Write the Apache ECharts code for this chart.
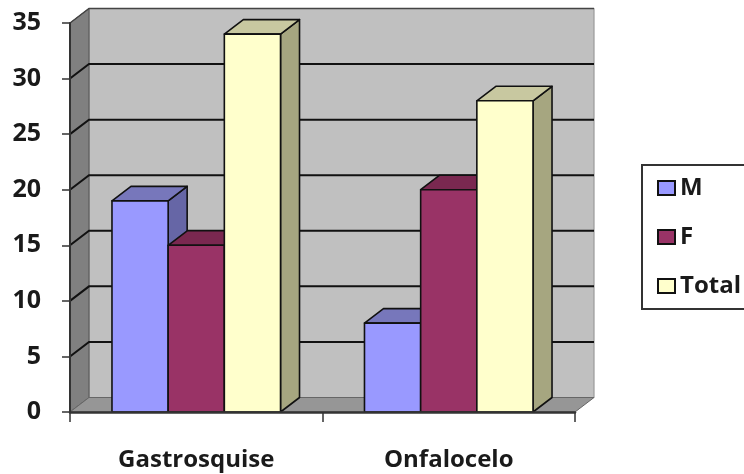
<!DOCTYPE html>
<html>
<head>
<meta charset="utf-8">
<style>html,body{margin:0;padding:0;background:#fff;overflow:hidden}#chart{width:744px;height:474px}</style>
<script src="https://cdn.jsdelivr.net/npm/echarts@6/dist/echarts.min.js"></script>
</head>
<body>
<div id="chart"></div>
<script>
const categories = ['Gastrosquise', 'Onfalocelo'];
const maleValues = [19, 8];
const femaleValues = [15, 20];
const totalValues = [34, 28];
const gridValues = [5, 10, 15, 20, 25, 30];
const yMax = 35;

// Depth of the pseudo-3D extrusion, in pixels
const DX = 19, DY = -14.5;
const INK = '#111';

const chart = echarts.init(document.getElementById('chart'));

function poly(points, fill, lineWidth, stroke) {
  return {
    type: 'polygon',
    shape: { points },
    style: { fill, stroke: stroke || INK, lineWidth: lineWidth === undefined ? 1.6 : lineWidth, lineJoin: 'round' }
  };
}

// One extruded box per category; slot is the bar's place inside its group
function boxRenderer(slot, front, top, side) {
  return function (params, api) {
    const base = api.coord([api.value(0), 0]);
    const tip = api.coord([api.value(0), api.value(1)]);
    const w = api.size([1, 0])[0] * 0.2225;
    const x0 = base[0] - 1.5 * w + slot * w;
    const x1 = x0 + w;
    const yb = base[1], yt = tip[1];
    return {
      type: 'group',
      children: [
        poly([[x1, yb], [x1 + DX, yb + DY], [x1 + DX, yt + DY], [x1, yt]], side),
        poly([[x0, yt], [x0 + DX, yt + DY], [x1 + DX, yt + DY], [x1, yt]], top),
        poly([[x0, yb], [x1, yb], [x1, yt], [x0, yt]], front)
      ]
    };
  };
}

// Back wall, side wall and floor of the plot box
function renderWalls(params, api) {
  const a = api.coord([0, 0]);
  const t = api.coord([0, yMax]);
  const xl = params.coordSys.x;
  const xr = xl + params.coordSys.width;
  const yb = a[1], yt = t[1];
  return {
    type: 'group',
    children: [
      poly([[xl + DX, yb + DY], [xr + DX, yb + DY], [xr + DX, yt + DY], [xl + DX, yt + DY]], '#c0c0c0', 1.2, '#9a9a9a'),
      poly([[xl, yb], [xl + DX, yb + DY], [xl + DX, yt + DY], [xl, yt]], '#808080', 1, '#555'),
      poly([[xl, yb], [xr, yb], [xr + DX, yb + DY], [xl + DX, yb + DY]], '#969696', 1, '#666'),
      {
        type: 'polyline',
        shape: { points: [[xl, yt], [xl + DX, yt + DY], [xr + DX, yt + DY]] },
        style: { fill: 'none', stroke: '#444', lineWidth: 1.4 }
      }
    ]
  };
}

// A grid line runs across the side wall and then along the back wall
function renderGridLine(params, api) {
  const p = api.coord([0, api.value(0)]);
  const xl = params.coordSys.x;
  const xr = xl + params.coordSys.width;
  return {
    type: 'polyline',
    shape: { points: [[xl, p[1]], [xl + DX, p[1] + DY], [xr + DX, p[1] + DY]] },
    style: { fill: 'none', stroke: INK, lineWidth: 2 }
  };
}

const labelFont = { color: '#1a1a1a', fontFamily: 'Open Sans', fontWeight: 700 };

const pairs = values => values.map((v, i) => [i, v]);

chart.setOption({
  animation: false,
  backgroundColor: '#fff',
  grid: { left: 70, top: 23, width: 505, height: 389 },
  legend: {
    data: ['M', 'F', 'Total'],
    orient: 'vertical',
    left: 642,
    top: 165,
    padding: [11, 30, 11, 15],
    itemWidth: 17,
    itemHeight: 14,
    itemGap: 25,
    icon: 'rect',
    borderColor: '#333',
    borderWidth: 2,
    backgroundColor: '#fff',
    textStyle: { ...labelFont, fontSize: 24, padding: [0, 0, 0, 0], lineHeight: 22 },
    itemStyle: { borderColor: INK, borderWidth: 2 }
  },
  xAxis: {
    type: 'category',
    data: categories,
    axisLine: { show: true, lineStyle: { color: '#333', width: 2.5 } },
    axisTick: { show: true, length: 10, lineStyle: { color: '#333', width: 1.5 } },
    axisLabel: { ...labelFont, fontSize: 24, margin: 36 },
    z: 5
  },
  yAxis: {
    type: 'value',
    min: 0,
    max: yMax,
    interval: 5,
    splitLine: { show: false },
    axisLine: { show: true, lineStyle: { color: '#333', width: 2 } },
    axisTick: { show: true, length: 8, lineStyle: { color: '#333', width: 1.5 } },
    axisLabel: { ...labelFont, fontSize: 25, margin: 29, padding: [4, 0, 0, 0] },
    z: 5
  },
  series: [
    { type: 'custom', name: 'walls', silent: true, clip: false, data: [[0, 0]], renderItem: renderWalls, z: 1 },
    { type: 'custom', name: 'grid', silent: true, clip: false, data: gridValues.map(v => [v]), encode: { y: 0 }, renderItem: renderGridLine, z: 1 },
    { type: 'custom', name: 'M', clip: false, data: pairs(maleValues), renderItem: boxRenderer(0, '#9999ff', '#7777bb', '#6666a6'), itemStyle: { color: '#9999ff' }, z: 2 },
    { type: 'custom', name: 'F', clip: false, data: pairs(femaleValues), renderItem: boxRenderer(1, '#993366', '#7a2850', '#66223f'), itemStyle: { color: '#993366' }, z: 2 },
    { type: 'custom', name: 'Total', clip: false, data: pairs(totalValues), renderItem: boxRenderer(2, '#ffffcc', '#c8c8a0', '#a6a680'), itemStyle: { color: '#ffffcc' }, z: 2 }
  ]
});
</script>
</body>
</html>
